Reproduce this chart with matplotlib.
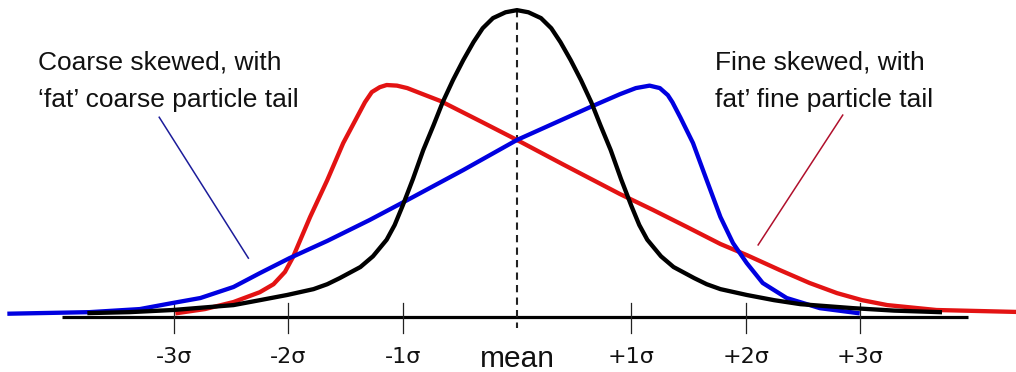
import matplotlib
matplotlib.use("Agg")
import matplotlib.pyplot as plt

# x in standard deviations from the mean, y as relative frequency (normal peak = 100)
normal_x = [-3.74, -3.39, -3.01, -2.48, -2.25, -2.01, -1.78, -1.66, -1.55, -1.37,
            -1.26, -1.14, -1.07, -1.00, -0.91, -0.82, -0.73, -0.65, -0.56, -0.47,
            -0.38, -0.30, -0.21, -0.10, 0.00, 0.10, 0.21, 0.30, 0.38, 0.47,
            0.56, 0.65, 0.73, 0.82, 0.91, 1.00, 1.07, 1.14, 1.26, 1.37,
            1.55, 1.66, 1.78, 2.01, 2.25, 2.48, 2.94, 3.30, 3.70]
normal_y = [1.3, 1.6, 2.3, 3.9, 5.5, 7.2, 9.1, 10.7, 12.7, 16.3,
            19.8, 25.2, 30.0, 36.3, 45.0, 54.4, 62.5, 70.0, 77.2, 83.7,
            89.6, 94.1, 97.4, 99.3, 100.0, 99.3, 97.4, 94.1, 89.6, 83.7,
            77.2, 70.0, 62.5, 54.4, 45.0, 36.3, 30.0, 25.2, 19.8, 16.3,
            12.7, 10.7, 9.1, 7.2, 5.5, 4.2, 2.9, 2.1, 1.6]

# red curve (pointed to by the "fine skewed" label)
fine_x = [-2.97, -2.73, -2.48, -2.25, -2.13, -2.03, -1.96, -1.81, -1.66, -1.52,
          -1.40, -1.33, -1.27, -1.20, -1.14, -1.05, -0.96, -0.85, -0.67, -0.32,
          0.00, 0.40, 0.90, 1.19, 1.49, 1.78, 2.01, 2.30, 2.56, 2.80,
          3.02, 3.24, 3.67, 4.45]
fine_y = [1.3, 2.6, 4.9, 8.1, 10.7, 14.7, 19.5, 32.6, 44.6, 56.7,
          65.1, 70.0, 73.3, 74.9, 75.6, 75.4, 74.6, 73.0, 70.4, 63.8,
          57.7, 49.8, 40.1, 34.9, 29.3, 23.8, 20.2, 15.3, 11.1, 7.8,
          5.5, 3.9, 2.3, 1.6]

# blue curve (pointed to by the "coarse skewed" label)
coarse_x = [-4.44, -3.74, -3.30, -3.01, -2.77, -2.48, -2.25, -1.99, -1.66, -1.29,
            -0.96, -0.47, 0.00, 0.64, 0.90, 1.04, 1.16, 1.25, 1.32, 1.36,
            1.43, 1.54, 1.66, 1.78, 1.89, 2.01, 2.15, 2.36, 2.65, 2.98]
coarse_y = [1.1, 1.6, 2.6, 4.6, 6.2, 9.8, 14.3, 19.2, 24.8, 31.6,
            38.1, 47.9, 57.7, 68.4, 72.6, 74.6, 75.4, 74.6, 72.3, 70.0,
            65.0, 56.7, 44.6, 32.6, 24.1, 17.6, 11.1, 6.2, 2.9, 1.3]

tick_pos = [-3, -2, -1, 1, 2, 3]
tick_labels = ["-3\u03c3", "-2\u03c3", "-1\u03c3", "+1\u03c3", "+2\u03c3", "+3\u03c3"]

RED = "#e31313"
BLUE = "#0000e0"

fig = plt.figure(figsize=(10.16, 3.72), dpi=100)
ax = fig.add_axes([0, 0, 1, 1])
ax.set_xlim(-4.523, 4.366)
ax.set_ylim(-17.9, 103.3)
ax.axis("off")

# baseline axis + tick marks
ax.plot([-3.98, 3.95], [0, 0], color="black", lw=2.3, solid_capstyle="butt", zorder=1)
for t in tick_pos:
    ax.plot([t, t], [4.6, -5.2], color="#222222", lw=0.9, zorder=1)
ax.plot([0, 0], [100, -3.6], color="#222222", lw=1.5,
        linestyle=(0, (3.5, 2.5)), zorder=1)

ax.plot(fine_x, fine_y, color=RED, lw=3.1, solid_joinstyle="round", zorder=2)
ax.plot(coarse_x, coarse_y, color=BLUE, lw=3.1, solid_joinstyle="round", zorder=3)
ax.plot(normal_x, normal_y, color="black", lw=3.1, solid_joinstyle="round", zorder=4)

for t, lab in zip(tick_pos, tick_labels):
    ax.text(t, -15.0, lab, ha="center", va="baseline", fontsize=16,
            family="DejaVu Sans", color="#111111")
ax.text(0, -16.3, "mean", ha="center", va="baseline", fontsize=21.5,
        family="Liberation Sans", color="#111111")

# annotations
txt = dict(fontsize=19, family="Liberation Sans", color="#111111", va="baseline")
ax.text(-4.19, 80.5, "Coarse skewed, with", **txt)
ax.text(-4.19, 68.4, "\u2018fat\u2019 coarse particle tail", **txt)
ax.text(1.73, 80.5, "Fine skewed, with", **txt)
ax.text(1.73, 68.4, "fat\u2019 fine particle tail", **txt)
ax.plot([-3.13, -2.35], [65.1, 19.2], color="#1c1c9a", lw=1.1)
ax.plot([2.85, 2.11], [65.8, 23.5], color="#b0102c", lw=1.1)

fig.savefig("out.png", dpi=100)
